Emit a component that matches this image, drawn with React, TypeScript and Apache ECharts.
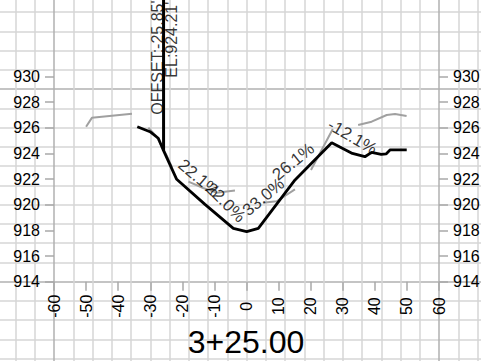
import React, { useEffect, useRef } from 'react';
import * as echarts from 'echarts';

const FONT = "'Liberation Sans', Arial, sans-serif";

// Station title
const stationTitle = '3+25.00';

// Axis ranges / ticks
const offsetMin = -60;
const offsetMax = 60;
const offsetStep = 10;
const elevMin = 914;
const elevMax = 930;
const elevStep = 2;

// Design (proposed) surface — black
const designX = [-34.04, -30.08, -27.49, -25.85, -21.76, -12.95, -4.11, 0.06, 3.68, 15.12, 26.56, 33.0, 36.9, 39.0, 42.0, 43.5, 44.8, 49.94];
const designY = [926.08, 925.69, 925.18, 924.21, 921.98, 920.03, 918.16, 917.9, 918.16, 921.93, 924.83, 924.0, 923.74, 924.08, 923.92, 923.96, 924.28, 924.28];

// Existing ground — grey (null = hidden part)
const groundX = [-50.0, -48.2, -35.7, -33.0, -30.6, -28.0, -25.0, -23.2, -20.5, -18.1, -13.5, -9.3, -3.6, 0.0, 5.1, 9.4, 15.1, 17.5, 20.1, 26.9, 30.0, 34.8, 39.0, 43.7, 46.3, 49.9];
const groundY = [926.07, 926.77, 927.08, null, 926.0, 925.3, 923.9, 922.9, null, 921.8, 921.3, 920.94, 921.1, null, 920.15, 920.27, 921.2, null, 922.7, 925.9, null, 926.21, 926.47, 926.99, 927.07, 926.92];

// Marker at the design point
const markerOffset = -25.85;
const markerElevation = 924.21;
const markerTop = 937;

// Grade labels
const gradeX = [-14.8, -6.55, 5.3, 14.6, 33.0];
const gradeY = [922.07, 920.17, 920.6, 923.35, 925.28];
const gradeText = ['22.1%', '22.0%', '33.0%', '26.1%', '-12.1%'];
const gradeAngle = [-40, -45, 40, 39, -30];

const LIGHT = '#d6d6d6';
const DARK = '#b0b0b0';
const TICK = '#a8a8a8';

export default function App() {
  const ref = useRef<HTMLDivElement>(null);

  useEffect(() => {
    if (!ref.current) return;
    const chart = echarts.init(ref.current, undefined, { renderer: 'svg' });

    const vColors = Array.from({ length: 27 }, (_, i) => (i === 3 || i === 23 ? DARK : LIGHT));
    const hColors = Array.from({ length: 21 }, (_, i) => (i === 5 || i === 15 ? DARK : LIGHT));

    const hiddenAxisParts = {
      axisLine: { show: false, onZero: false },
      axisTick: { show: false },
      axisLabel: { show: false },
    };

    const tickStyle = { show: true, length: 9, lineStyle: { color: TICK, width: 1.5 } };
    const labelStyle = { fontSize: 16, color: '#000', fontFamily: FONT };

    const option: any = {
      animation: false,
      backgroundColor: '#ffffff',
      textStyle: { fontFamily: FONT },
      title: {
        text: stationTitle,
        left: 246,
        top: 325.8,
        padding: 0,
        textAlign: 'center',
        textStyle: { fontSize: 32, fontWeight: 'normal', color: '#000', fontFamily: FONT },
      },
      grid: [
        { left: -3.75, right: -15.75, top: -7.05, bottom: -16.95, containLabel: false, outerBoundsMode: 'none' },
        { left: 54, right: 42, top: 76.4, bottom: 79.3, containLabel: false, outerBoundsMode: 'none' },
      ],
      xAxis: [
        {
          gridIndex: 0, type: 'value', min: -3, max: 23, interval: 1,
          ...hiddenAxisParts,
          splitLine: { show: true, lineStyle: { color: vColors, width: 1.5 } },
        },
        {
          gridIndex: 1, type: 'value', min: offsetMin, max: offsetMax, interval: offsetStep,
          axisLine: { show: false, onZero: false },
          axisTick: tickStyle,
          axisLabel: { ...labelStyle, rotate: 90, align: 'center', verticalAlign: 'middle', margin: 24.5 },
          splitLine: { show: false },
        },
      ],
      yAxis: [
        {
          gridIndex: 0, type: 'value', min: -5, max: 15, interval: 1,
          ...hiddenAxisParts,
          splitLine: { show: true, lineStyle: { color: hColors, width: 1.5 } },
        },
        {
          gridIndex: 1, type: 'value', min: elevMin, max: elevMax, interval: elevStep, position: 'left',
          axisLine: { show: false, onZero: false },
          axisTick: tickStyle,
          axisLabel: { ...labelStyle, margin: 14 },
          splitLine: { show: false },
        },
        {
          gridIndex: 1, type: 'value', min: elevMin, max: elevMax, interval: elevStep, position: 'right',
          axisLine: { show: false, onZero: false },
          axisTick: tickStyle,
          axisLabel: { ...labelStyle, margin: 14 },
          splitLine: { show: false },
        },
      ],
      series: [
        {
          type: 'line', xAxisIndex: 1, yAxisIndex: 1, z: 3,
          data: groundX.map((x, i) => [x, groundY[i]]),
          showSymbol: false, connectNulls: false,
          lineStyle: { color: '#a0a0a0', width: 2 },
        },
        {
          type: 'line', xAxisIndex: 1, yAxisIndex: 1, z: 4,
          data: designX.map((x, i) => [x, designY[i]]),
          showSymbol: false,
          lineStyle: { color: '#000', width: 2.8 },
        },
        {
          type: 'line', xAxisIndex: 1, yAxisIndex: 1, z: 4, clip: false,
          data: [[markerOffset, markerElevation], [markerOffset, markerTop]],
          showSymbol: false,
          lineStyle: { color: '#000', width: 3 },
        },
        {
          type: 'scatter', xAxisIndex: 1, yAxisIndex: 1, z: 5, clip: false,
          symbolSize: 0,
          itemStyle: { color: 'transparent' },
          label: { show: true, position: 'inside', rotate: 90, fontSize: 16, color: '#000', fontFamily: FONT },
          data: [
            {
              value: [markerOffset, markerElevation],
              label: { formatter: `OFFSET:${markerOffset.toFixed(2)}'`, align: 'left', verticalAlign: 'bottom', offset: [36, 1.5] },
            },
            {
              value: [markerOffset, markerElevation],
              label: { formatter: `EL:${markerElevation.toFixed(2)}'`, align: 'left', verticalAlign: 'top', offset: [73, 0] },
            },
          ],
        },
        {
          type: 'scatter', xAxisIndex: 1, yAxisIndex: 1, z: 5,
          symbolSize: 0,
          itemStyle: { color: 'transparent' },
          label: { show: true, position: 'inside', fontSize: 17, color: '#000', fontFamily: FONT, align: 'center', verticalAlign: 'middle' },
          data: gradeX.map((x, i) => ({
            value: [x, gradeY[i]],
            label: { formatter: gradeText[i], rotate: gradeAngle[i] },
          })),
        },
      ],
    };

    chart.setOption(option);
    return () => chart.dispose();
  }, []);

  return (
    <div
      ref={ref}
      style={{ position: 'fixed', left: 0, top: 0, width: 481, height: 361, background: '#fff' }}
    />
  );
}
